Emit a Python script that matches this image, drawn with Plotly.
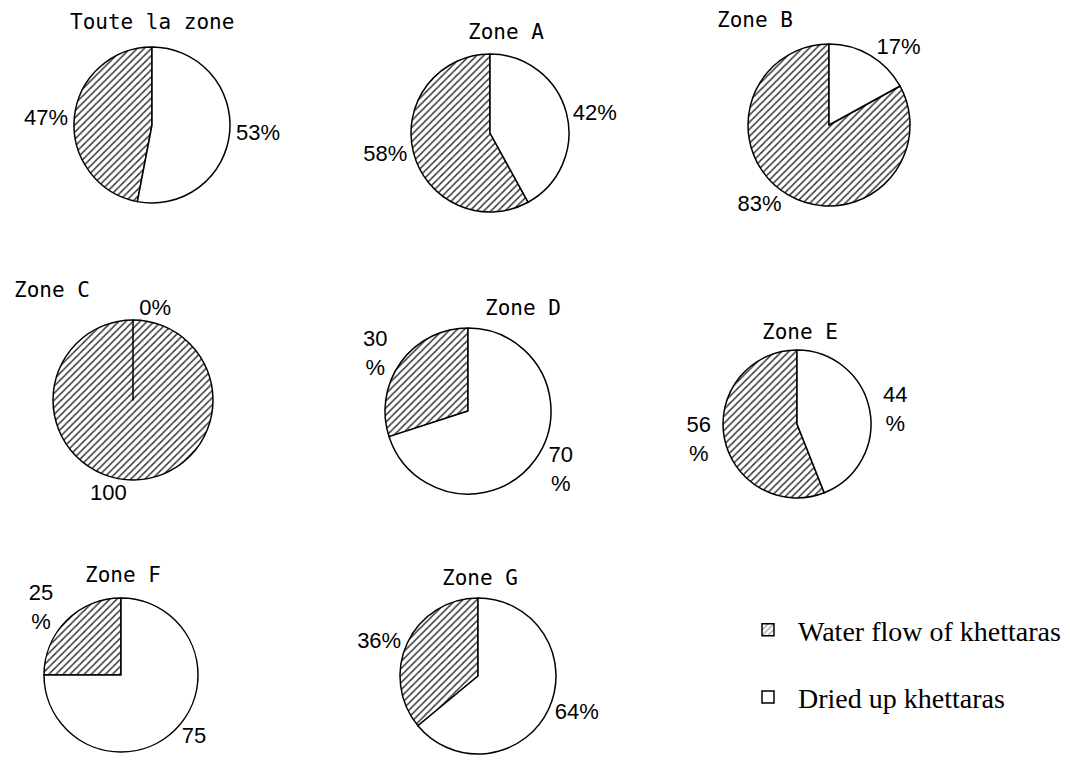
import plotly.graph_objects as go

W, H = 1070, 763
PAGE_OFFSET = 8  # the html body margin shifts the figure by 8px

# data
zones = ["Toute la zone", "Zone A", "Zone B", "Zone C", "Zone D", "Zone E", "Zone F", "Zone G"]
categories = ["Water flow of khettaras", "Dried up khettaras"]
water_flow = [47, 58, 83, 100, 30, 56, 25, 36]
dried_up = [53, 42, 17, 0, 70, 44, 75, 64]
water_labels = ["47%", "58%", "83%", "100", "30<br>%", "56<br>%", "25<br>%", "36%"]
dried_labels = ["53%", "42%", "17%", "0%", "70<br>%", "44<br>%", "75", "64%"]

# layout (page pixels): pie centre x, centre y, radius, title x, title y
pies = [
    (152, 125, 78, 152, 22),
    (490, 133, 79, 506, 32),
    (829, 125, 81, 755, 20),
    (133, 400, 80, 52, 290),
    (468, 411, 83, 523, 308),
    (797, 424, 74, 800, 332),
    (121, 675, 77, 123, 575),
    (478, 676, 78, 480, 578),
]


def px_x(x):
    return (x - PAGE_OFFSET) / W


def px_y(y):
    return 1 - (y - PAGE_OFFSET) / H


hatch = dict(shape="/", size=5, solidity=0.3, fgcolor="#3a3a3a", bgcolor="white")
label_font = dict(family="Liberation Sans Narrow, Liberation Sans, Arial", size=22, color="black")

fig = go.Figure()

for i, (cx, cy, r, tx, ty) in enumerate(pies):
    total = water_flow[i] + dried_up[i]
    # water slice first, rotated so that it ends at 12 o'clock (left side),
    # dried slice then runs clockwise from 12 o'clock
    fig.add_trace(go.Pie(
        labels=categories,
        values=[water_flow[i], dried_up[i]],
        text=[water_labels[i], dried_labels[i]],
        textinfo="text",
        textposition="outside",
        textfont=label_font,
        sort=False,
        direction="clockwise",
        rotation=-360 * water_flow[i] / total,
        marker=dict(
            colors=["white", "white"],
            pattern=dict(shape=["/", ""], size=5, solidity=0.3,
                         fgcolor="#3a3a3a", bgcolor="white"),
            line=dict(color="black", width=1.5),
        ),
        domain=dict(x=[px_x(cx - r), px_x(cx + r)],
                    y=[px_y(cy + r), px_y(cy - r)]),
        showlegend=False,
        hoverinfo="label+percent",
    ))
    fig.add_annotation(
        x=px_x(tx), y=px_y(ty), xref="paper", yref="paper",
        text=zones[i], showarrow=False, xanchor="center", yanchor="middle",
        font=dict(family="DejaVu Sans Mono", size=21, color="black"),
    )

# legend entries (dummy bars so the two items can be spaced apart)
fig.add_trace(go.Bar(
    x=[None], y=[None], name=categories[0], legendgroup="w",
    marker=dict(color="white", pattern=hatch, line=dict(color="black", width=1.5)),
))
fig.add_trace(go.Bar(
    x=[None], y=[None], name=categories[1], legendgroup="d",
    marker=dict(color="white", line=dict(color="black", width=1.5)),
))

fig.update_xaxes(visible=False)
fig.update_yaxes(visible=False)

fig.update_layout(
    width=W, height=H,
    margin=dict(l=0, r=0, t=0, b=0),
    paper_bgcolor="white",
    plot_bgcolor="white",
    showlegend=True,
    legend=dict(
        x=px_x(738), y=px_y(605), xanchor="left", yanchor="top",
        font=dict(family="Liberation Serif, Times New Roman", size=28, color="black"),
        tracegroupgap=28,
        itemwidth=50,
        bgcolor="rgba(0,0,0,0)",
        itemclick=False, itemdoubleclick=False,
    ),
)

fig.write_html("out.html")
